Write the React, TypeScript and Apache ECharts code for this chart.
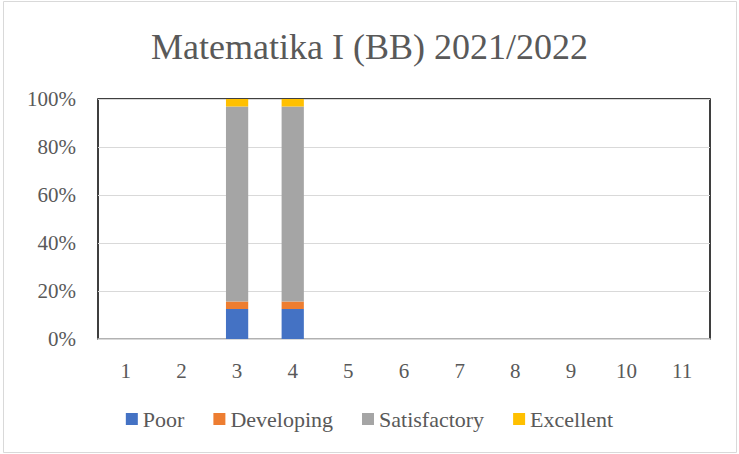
import React, { useEffect, useRef } from "react";
import * as echarts from "echarts";

const categories = ["1", "2", "3", "4", "5", "6", "7", "8", "9", "10", "11"];
const poor = [0, 0, 12.5, 12.5, 0, 0, 0, 0, 0, 0, 0];
const developing = [0, 0, 3.125, 3.125, 0, 0, 0, 0, 0, 0, 0];
const satisfactory = [0, 0, 81.25, 81.25, 0, 0, 0, 0, 0, 0, 0];
const excellent = [0, 0, 3.125, 3.125, 0, 0, 0, 0, 0, 0, 0];
const seriesNames = ["Poor", "Developing", "Satisfactory", "Excellent"];
const seriesColors = ["#4472C4", "#ED7D31", "#A5A5A5", "#FFC000"];

const FONT = "Liberation Serif";
const TEXT = "#595959";

export default function App() {
  const ref = useRef<HTMLDivElement>(null);
  useEffect(() => {
    if (!ref.current) return;
    const chart = echarts.init(ref.current, null, { renderer: "svg" });
    const data = [poor, developing, satisfactory, excellent];
    chart.setOption({
      animation: false,
      backgroundColor: "#ffffff",
      textStyle: { fontFamily: FONT },
      title: {
        text: "Matematika I (BB) 2021/2022",
        left: "center",
        top: 24,
        textStyle: { fontFamily: FONT, fontSize: 36, fontWeight: "normal", color: TEXT },
      },
      legend: {
        data: seriesNames,
        top: 403,
        left: "center",
        icon: "rect",
        itemWidth: 12,
        itemHeight: 12,
        itemGap: 29,
        textStyle: { fontFamily: FONT, fontSize: 22, fontWeight: "normal", color: TEXT },
      },
      grid: {
        left: 98,
        right: 29,
        top: 99,
        bottom: 115,
        show: true,
        borderColor: "#000000",
        borderWidth: 1.5,
        containLabel: false,
      },
      xAxis: {
        type: "category",
        data: categories,
        axisLine: { show: true, lineStyle: { color: "#D9D9D9", width: 1.5 } },
        axisTick: { show: false },
        axisLabel: { fontFamily: FONT, fontSize: 21, fontWeight: "normal", color: TEXT, margin: 21 },
      },
      yAxis: {
        type: "value",
        min: 0,
        max: 100,
        interval: 20,
        axisLine: { show: false },
        axisTick: { show: false },
        splitLine: { lineStyle: { color: "#D9D9D9", width: 1 } },
        axisLabel: { fontFamily: FONT, fontSize: 21, fontWeight: "normal", color: TEXT, margin: 22, formatter: "{value}%" },
      },
      series: seriesNames.map((name, i) => ({
        name,
        type: "bar",
        stack: "total",
        barWidth: "40%",
        data: data[i],
        itemStyle: { color: seriesColors[i] },
      })),
      graphic: [
        {
          type: "rect",
          shape: { x: 3.5, y: 1.5, width: 733, height: 451 },
          style: { fill: "none", stroke: "#D9D9D9", lineWidth: 1 },
          silent: true,
        },
      ],
    });
    return () => chart.dispose();
  }, []);
  return (
    <div
      ref={ref}
      style={{ position: "fixed", left: 0, top: 0, width: 739, height: 454 }}
    />
  );
}
